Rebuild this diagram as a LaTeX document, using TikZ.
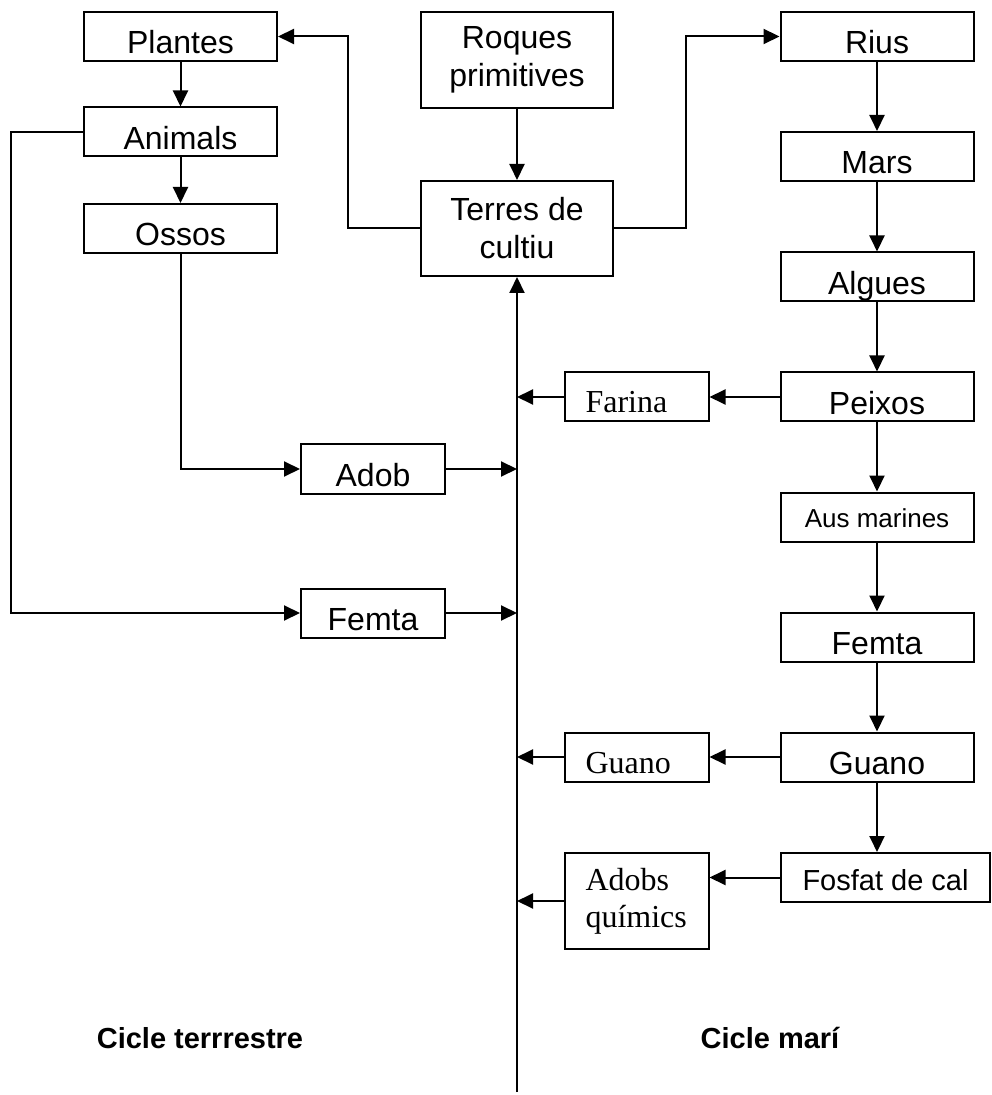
\documentclass[tikz,border=0pt]{standalone}
\usepackage{fontspec}
\usetikzlibrary{arrows.meta}
\newfontfamily\arialf{Liberation Sans}
\newfontfamily\timesf{Liberation Serif}

\begin{document}
\begin{tikzpicture}[x=0.5pt, y=-0.5pt,
    arr/.style={-{Triangle[length=8pt,width=7.5pt]}, line width=1pt},
    box/.style={draw, line width=1pt, inner sep=0pt, minimum width=96.5pt, minimum height=24.5pt,
        font=\arialf\fontsize{16}{19}\selectfont, text height=17.5pt, text depth=0pt},
    tallbox/.style={draw, line width=1pt, inner sep=0pt, minimum width=96pt, minimum height=48pt,
        align=center, font=\arialf\fontsize{16}{19}\selectfont},
    serifbox/.style={draw, line width=1pt, inner ysep=0pt, inner xsep=10.5pt, text width=51pt,
        align=left, minimum height=24.5pt, font=\timesf\fontsize{16}{18.5}\selectfont},
    serifone/.style={text height=16pt, text depth=0pt},
    cicle/.style={font=\arialf\bfseries\fontsize{14.5}{17}\selectfont}]

    \useasboundingbox (0,0) rectangle (991,1095);

    \node[box] (plantes) at (180.5,36.5) {Plantes};
    \node[box] (animals) at (180.5,132) {Animals};
    \node[box] (ossos) at (180.5,228.5) {Ossos};
    \node[tallbox] (roques) at (517,60) {Roques\\primitives};
    \node[tallbox, minimum height=47.5pt] (terres) at (517,228.5) {Terres de\\cultiu};
    \node[box] (rius) at (877,36.5) {Rius};
    \node[box] (mars) at (877,156.5) {Mars};
    \node[box] (algues) at (877,277) {Algues};
    \node[box] (peixos) at (877,397) {Peixos};
    \node[box, font=\arialf\fontsize{13}{15}\selectfont, text height=10pt] (ausmarines) at (877,517) {Aus marines};
    \node[box] (femtam) at (877,637) {Femta};
    \node[box] (guanom) at (877,757) {Guano};
    \node[box, minimum width=104.5pt, font=\arialf\fontsize{14.5}{17}\selectfont, text height=13.2pt] (fosfat) at (885.5,877.5) {Fosfat de cal};
    \node[serifbox, serifone] (farina) at (636.5,397) {Farina};
    \node[serifbox, serifone] (guanot) at (636.5,757) {Guano};
    \node[serifbox, minimum height=48pt] (adobs) at (636.5,901) {Adobs\\químics};
    \node[box, minimum width=72pt] (adob) at (373,469) {Adob};
    \node[box, minimum width=72pt] (femtat) at (373,613) {Femta};
    \node[cicle] (terrestre) at (200,1038) {Cicle terrrestre};
    \node[cicle] (mari) at (770,1038) {Cicle marí};

    \coordinate (foot) at (517,1092);
    \draw[arr] (foot) -- (terres.south);
    \draw[arr] (roques) -- (terres);
    \draw[arr] (terres.west) -- ++(-72,0) |- (plantes.east);
    \draw[arr] (terres.east) -- ++(72,0) |- (rius.west);
    \draw[arr] (plantes) -- (animals);
    \draw[arr] (animals) -- (ossos);
    \draw[arr] (ossos.south) |- (adob.west);
    \draw[arr] (animals.west) -- ++(-72,0) |- (femtat.west);
    \draw[arr] (adob.east) -- (adob.east -| foot);
    \draw[arr] (femtat.east) -- (femtat.east -| foot);

    \foreach \a/\b in {rius/mars, mars/algues, algues/peixos, peixos/ausmarines, ausmarines/femtam, femtam/guanom}
        \draw[arr] (\a) -- (\b);
    \draw[arr] (guanom.south) -- (guanom.south |- fosfat.north);
    \draw[arr] (peixos.west) -- (farina.east);
    \draw[arr] (guanom.west) -- (guanot.east);
    \draw[arr] (fosfat.west) -- (fosfat.west -| adobs.east);
    \draw[arr] (farina.west) -- (farina.west -| foot);
    \draw[arr] (guanot.west) -- (guanot.west -| foot);
    \draw[arr] (adobs.west) -- (adobs.west -| foot);
\end{tikzpicture}
\end{document}
